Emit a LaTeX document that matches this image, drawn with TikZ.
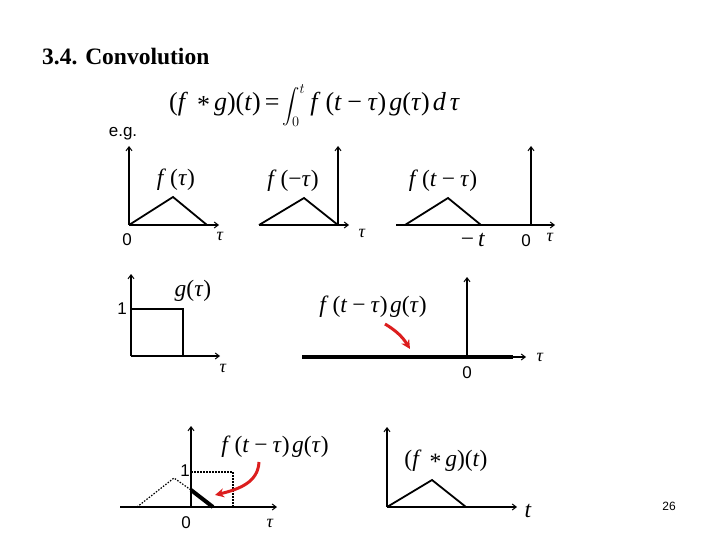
\documentclass[tikz,border=0pt]{standalone}
\usepackage{exscale}
\usepackage{fontspec}
\setmainfont{Liberation Serif}
\newfontfamily\arialf{Liberation Sans}
\usetikzlibrary{arrows.meta}
\newcommand\vi[1]{\textit{#1}}
\newcommand\mns{\kern5pt−\kern5pt}
\newcommand\ftg{\vi{f}\kern4pt(\vi{t}\mns\vi{τ})\kern2.5pt\vi{g}(\vi{τ})}
\begin{document}
\begin{tikzpicture}[x=1pt,y=-1pt,
  ax/.style={line width=1.6pt,-{Straight Barb[length=4pt,width=6pt,line width=1pt]}},
  curve/.style={line width=1.8pt,line join=miter},
  dots/.style={line width=1.2pt,dash pattern=on 1.5pt off 1.5pt},
  heavy/.style={line width=4.5pt},
  redarr/.style={draw={rgb,255:red,220;green,30;blue,30},line width=3pt,-{Stealth[length=9pt,width=9pt]}},
  lab/.style={inner sep=0pt,font=\fontsize{23.5}{26}\selectfont},
  tlab/.style={inner sep=0pt,font=\fontsize{18}{21}\selectfont},
  slab/.style={inner sep=0pt,font=\arialf\fontsize{17}{20}\selectfont}]
\useasboundingbox (0,0) rectangle (720,540);
% title and formula
\node[anchor=west,inner sep=0pt,font=\bfseries\fontsize{23.5}{28}\selectfont] (title) at (42,57) {3.4. Convolution};
\node[anchor=base west,inner sep=0pt,font=\fontsize{26}{30}\selectfont] (formula) at (169,111)
  {(\vi{f}\kern9pt\raisebox{-0.25ex}{*}\kern4pt\vi{g})(\vi{t})\kern4pt=\kern3pt{\fontsize{19}{22}\selectfont$\displaystyle\int_0^t$}\kern5pt\vi{f}\kern5pt(\vi{t}\kern5.5pt−\kern5.5pt\vi{τ})\kern3pt\vi{g}(\vi{τ})\kern3pt\vi{d}\kern4pt\vi{τ}};
\node[slab] (eg) at (123,134) {e.g.};
% panel 1
\coordinate (o1) at (129,225); \coordinate (y1) at (129,146); \coordinate (x1) at (219,225);
\draw[ax] (o1) -- (y1);
\draw[ax] (o1) -- (x1);
\coordinate (p1a) at (129,225); \coordinate (p1b) at (173,197); \coordinate (p1c) at (207,225);
\draw[curve] (p1a) -- (p1b) -- (p1c);
\node[lab] (l1) at (176,180) {\vi{f}\kern4pt(\vi{τ})};
\node[slab] (z1) at (127,240) {0};
\node[tlab] (t1) at (220,236) {\vi{τ}};
% panel 2
\coordinate (o2) at (338,225); \coordinate (y2) at (338,146);
\coordinate (s2) at (259,225); \coordinate (x2) at (349,225);
\draw[ax] (o2) -- (y2);
\draw[ax] (s2) -- (x2);
\coordinate (p2b) at (304,198);
\draw[curve] (s2) -- (p2b) -- (o2);
\node[lab] (l2) at (293,181) {\vi{f}\kern4pt(−\vi{τ})};
\node[tlab] (t2) at (362,233) {\vi{τ}};
% panel 3
\coordinate (o3) at (531,225); \coordinate (y3) at (531,146);
\coordinate (s3) at (396,225); \coordinate (x3) at (555,225);
\draw[ax] (o3) -- (y3);
\draw[ax] (s3) -- (x3);
\coordinate (p3a) at (405,225); \coordinate (p3b) at (448,198); \coordinate (p3c) at (481,225);
\draw[curve] (p3a) -- (p3b) -- (p3c);
\node[lab] (l3) at (443,181) {\vi{f}\kern4pt(\vi{t}\mns\vi{τ})};
\node[lab] (mt) at (473,240) {−\kern4pt\vi{t}};
\node[slab] (z3) at (526,241) {0};
\node[tlab] (t3) at (550,237) {\vi{τ}};
% panel 4
\coordinate (o4) at (131,356); \coordinate (y4) at (131,274); \coordinate (x4) at (220,356);
\draw[ax] (o4) -- (y4);
\draw[ax] (o4) -- (x4);
\coordinate (g4a) at (131,309); \coordinate (g4b) at (183,309); \coordinate (g4c) at (183,356);
\draw[curve] (g4a) -- (g4b) -- (g4c);
\node[slab] (one4) at (122,309) {1};
\node[lab] (l4) at (193,291) {\vi{g}(\vi{τ})};
\node[tlab] (t4) at (223,368) {\vi{τ}};
% panel 5
\coordinate (o5) at (467,357); \coordinate (y5) at (467,277);
\coordinate (s5) at (302,357); \coordinate (e5) at (513,357); \coordinate (x5) at (526,357);
\draw[heavy] (s5) -- (e5);
\draw[ax] (s5) -- (x5);
\draw[ax] (o5) -- (y5);
\node[slab] (z5) at (467,373) {0};
\node[tlab] (t5) at (540,357) {\vi{τ}};
\node[lab] (l5) at (373,307) {\ftg};
\coordinate (r5a) at (385,324); \coordinate (r5b) at (410,349);
\draw[redarr] (r5a) .. controls (395,330) and (402,336) .. (r5b);
% panel 6
\coordinate (o6) at (191,507); \coordinate (y6) at (191,426);
\coordinate (s6) at (120,507); \coordinate (x6) at (277,507);
\draw[ax] (s6) -- (x6);
\draw[ax] (o6) -- (y6);
\coordinate (d6a) at (137,507); \coordinate (d6b) at (174,478); \coordinate (d6c) at (191,490);
\draw[dots] (d6a) -- (d6b) -- (d6c);
\coordinate (h6) at (213,507);
\draw[heavy,line width=4pt] (d6c) -- (h6);
\coordinate (b6a) at (191,472); \coordinate (b6b) at (233,472); \coordinate (b6c) at (233,507);
\draw[dots] (b6a) -- (b6b) -- (b6c);
\node[slab] (one6) at (185,471) {1};
\node[slab] (z6) at (186,523) {0};
\node[tlab] (t6) at (270,523) {\vi{τ}};
\node[lab] (l6) at (275,447) {\ftg};
\coordinate (r6a) at (259,462); \coordinate (r6b) at (215,495);
\draw[redarr] (r6a) .. controls (258,482) and (240,489) .. (r6b);
% panel 7
\coordinate (o7) at (387,507); \coordinate (y7) at (387,427); \coordinate (x7) at (517,507);
\draw[ax] (o7) -- (y7);
\draw[ax] (o7) -- (x7);
\coordinate (p7b) at (432,480); \coordinate (p7c) at (466,507);
\draw[curve] (o7) -- (p7b) -- (p7c);
\node[lab] (l7) at (446,461) {(\vi{f}\kern8pt\raisebox{-0.25ex}{*}\kern4pt\vi{g})(\vi{t})};
\node[lab] (t7) at (528,511) {\vi{t}};
% page number
\node[inner sep=0pt,font=\arialf\fontsize{12}{14}\selectfont] (pg) at (669,506) {26};
\end{tikzpicture}
\end{document}
